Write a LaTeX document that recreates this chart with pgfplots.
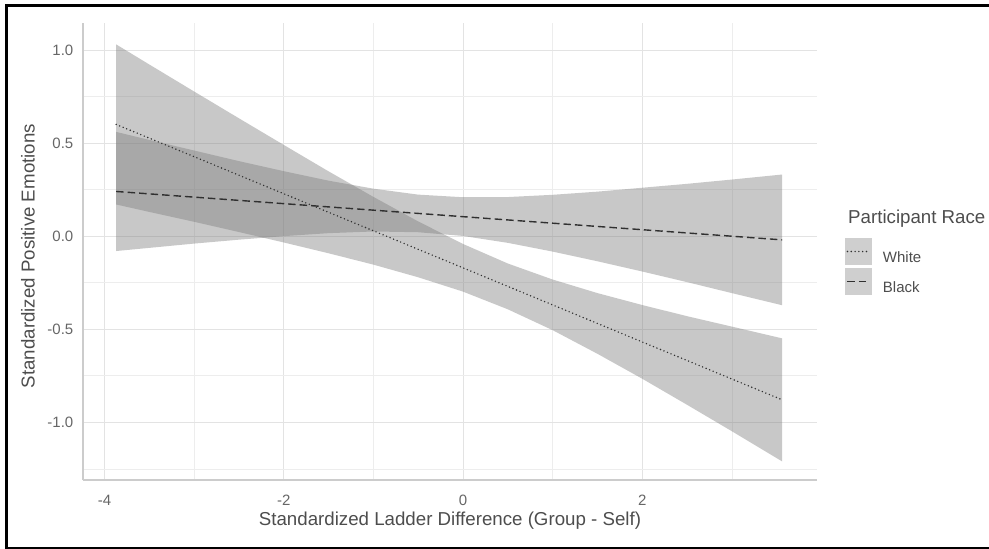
\documentclass[border=0pt]{standalone}
\usepackage{fontspec}
\setmainfont{Liberation Sans}
\usepackage[HTML]{xcolor}
\usepackage{pgfplots}
\pgfplotsset{compat=1.18}
\definecolor{bandfill}{HTML}{7C7C7C}
\definecolor{keyfill}{HTML}{CFCFCF}
\definecolor{gridmaj}{HTML}{E3E3E3}
\definecolor{gridmin}{HTML}{EDEDED}
\definecolor{axisc}{HTML}{CCCCCC}
\definecolor{tickc}{HTML}{666666}
\definecolor{titlec}{HTML}{4D4D4D}
\definecolor{linec}{HTML}{303030}

\begin{document}
\begin{tikzpicture}
\useasboundingbox (0,0) rectangle (989bp,549bp);
\begin{axis}[
    at={(83bp,69bp)}, anchor=south west,
    scale only axis, width=734bp, height=457bp,
    xmin=-4.24, xmax=3.95, ymin=-1.31, ymax=1.145,
    xtick={-4,-2,0,2}, xticklabels={-4,-2,0,2},
    ytick={-1,-0.5,0,0.5,1}, yticklabels={-1.0,-0.5,0.0,0.5,1.0},
    minor xtick={-3,-1,1,3},
    minor ytick={-1.25,-0.75,-0.25,0.25,0.75},
    grid=both,
    major grid style={draw=gridmaj, line width=0.9bp},
    minor grid style={draw=gridmin, line width=0.6bp},
    axis x line*=bottom, axis y line*=left,
    axis line style={draw=axisc, line width=1.2bp, -},
    major tick length=0pt, minor tick length=0pt,
    tick style={draw=none},
    xticklabel style={font=\fontsize{15bp}{18bp}\selectfont, text=tickc, inner sep=0pt, anchor=north, yshift=-15bp},
    yticklabel style={font=\fontsize{15bp}{18bp}\selectfont, text=tickc, inner sep=0pt, anchor=east, xshift=-9.5bp},
    xlabel={Standardized Ladder Difference (Group - Self)},
    ylabel={Standardized Positive Emotions},
    every axis x label/.style={at={(axis description cs:0.5,-0.0985)}, anchor=base, inner sep=0pt,
        font=\fontsize{18.7bp}{22bp}\selectfont, text=titlec},
    every axis y label/.style={at={(axis description cs:-0.0749,0.49)}, rotate=90, anchor=center, inner sep=0pt,
        font=\fontsize{18.7bp}{22bp}\selectfont, text=titlec},
    legend style={at={(1.0381,0.5295)}, anchor=north west, draw=none, fill=none,
        inner sep=0pt, outer sep=0pt, row sep=3bp, column sep=11bp,
        font=\fontsize{15bp}{18bp}\selectfont, text=titlec, nodes={inner sep=0pt}},
    legend cell align=left,
    legend image code/.code={
        \path[fill=keyfill, draw=none, solid] (0bp,-7bp) rectangle (27bp,20bp);
        \draw[#1] (2.5bp,6.5bp) -- (24.5bp,6.5bp);
    },
]
% White confidence band (upper edge, then lower edge reversed)
\addplot[forget plot, draw=none, fill=bandfill, fill opacity=0.42] coordinates {
    (-3.87,1.030) (-3.5,0.922) (-3.0,0.777) (-2.5,0.633) (-2.0,0.490) (-1.5,0.348)
    (-1.0,0.211) (-0.5,0.079) (0.0,-0.042) (0.5,-0.147) (1.0,-0.233) (1.5,-0.306)
    (2.0,-0.370) (2.5,-0.430) (3.0,-0.486) (3.56,-0.549)
    (3.56,-1.210) (3.0,-1.048) (2.5,-0.906) (2.0,-0.766) (1.5,-0.632) (1.0,-0.505)
    (0.5,-0.393) (0.0,-0.298) (-0.5,-0.221) (-1.0,-0.153) (-1.5,-0.092) (-2.0,-0.034)
    (-2.5,0.022) (-3.0,0.077) (-3.5,0.130) (-3.87,0.170)
} -- cycle;
% Black confidence band
\addplot[forget plot, draw=none, fill=bandfill, fill opacity=0.42] coordinates {
    (-3.87,0.560) (-3.5,0.517) (-3.0,0.460) (-2.5,0.403) (-2.0,0.349) (-1.5,0.298)
    (-1.0,0.255) (-0.5,0.223) (0.0,0.209) (0.5,0.210) (1.0,0.222) (1.5,0.239)
    (2.0,0.260) (2.5,0.281) (3.0,0.304) (3.56,0.331)
    (3.56,-0.371) (3.0,-0.306) (2.5,-0.247) (2.0,-0.190) (1.5,-0.135) (1.0,-0.083)
    (0.5,-0.036) (0.0,0.001) (-0.5,0.021) (-1.0,0.025) (-1.5,0.016) (-2.0,0.000)
    (-2.5,-0.019) (-3.0,-0.040) (-3.5,-0.063) (-3.87,-0.080)
} -- cycle;
% White fitted line
\addplot[draw=linec, line width=1.6bp, line cap=round, dash pattern=on 0bp off 3.8bp] coordinates {
    (-3.87,0.600) (3.56,-0.879)
};
\addlegendentry{White}
% Black fitted line
\addplot[draw=linec, line width=1.4bp, dash pattern=on 7.5bp off 4bp] coordinates {
    (-3.87,0.240) (3.56,-0.020)
};
\addlegendentry{Black}
\end{axis}
\node[anchor=base west, inner sep=0pt, font=\fontsize{18.7bp}{22bp}\selectfont, text=titlec] at (848bp,325bp) {Participant Race};
\draw[black, line width=2.2bp] (6.5bp,0bp) -- (6.5bp,543.5bp);
\draw[black, line width=2.2bp] (5.4bp,543.5bp) -- (995bp,543.5bp);
\draw[black, line width=2.2bp] (5.4bp,1.2bp) -- (995bp,1.2bp);
\end{tikzpicture}
\end{document}
